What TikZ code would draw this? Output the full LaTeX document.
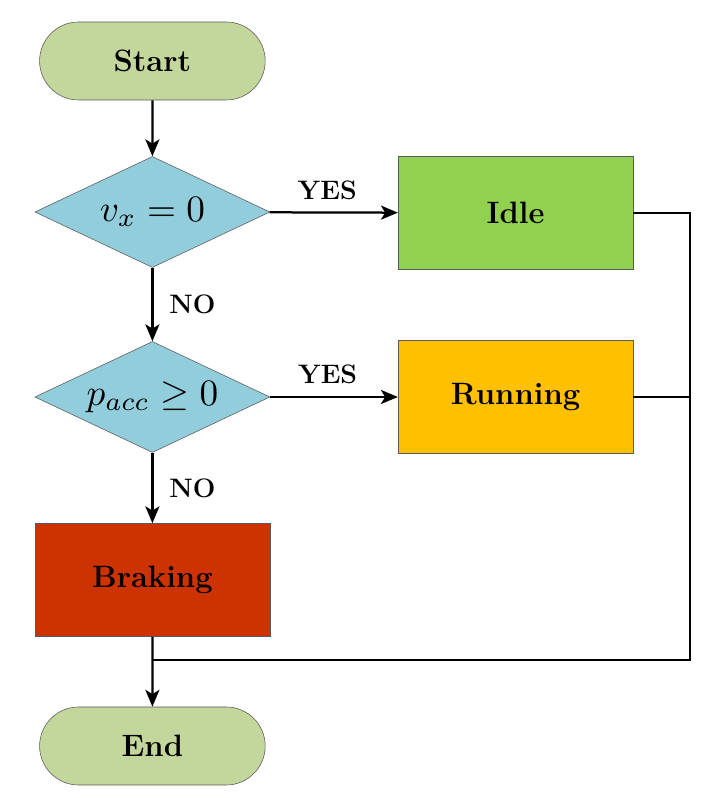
\documentclass[tikz,border=0pt]{standalone}
\usepackage{fontspec}
\usetikzlibrary{shapes.geometric, shapes.misc, arrows.meta}

\definecolor{termgreen}{HTML}{C3D69B}
\definecolor{condblue}{HTML}{92CDDC}
\definecolor{idlegreen}{HTML}{92D050}
\definecolor{runorange}{HTML}{FFC000}
\definecolor{brakered}{HTML}{CC3300}

\newcommand{\bigmath}[1]{\scalebox{2.65}{$#1$}}

\begin{document}
\begin{tikzpicture}[
  terminal/.style={rounded rectangle, draw=gray!70!black, thin, fill=termgreen,
    minimum width=5.875cm, minimum height=1.95cm, font=\fontsize{22}{26}\selectfont\bfseries},
  decision/.style={diamond, aspect=2.1, draw=gray!70!black, thin, fill=condblue, inner sep=0pt,
    minimum width=5.875cm, minimum height=2.775cm},
  state/.style={rectangle, draw=gray!70!black, thin,
    minimum width=5.875cm, minimum height=2.825cm, font=\fontsize{22}{26}\selectfont\bfseries},
  flow/.style={line width=1.6pt, -{Stealth[length=12pt, width=10pt, inset=3pt]}},
  link/.style={line width=1.6pt},
  answer/.style={font=\fontsize{19}{22}\selectfont\bfseries}
]
  % Fix the page size
  \useasboundingbox (0,0) rectangle (18.1,19.95);

  % Main column
  \node[terminal] (start) at (3.81,18.425) {Start};
  \node[decision] (still) at (3.81,14.65) {\bigmath{v_x = 0}};
  \node[decision] (accel) at (3.81,10.025) {\bigmath{p_{acc} \geq 0}};
  \node[state, fill=brakered] (braking) at (3.81,5.45) {Braking};
  \node[terminal] (end) at (3.81,1.3) {End};

  % Right column
  \node[state, fill=idlegreen] (idle) at (12.89,14.625) {Idle};
  \node[state, fill=runorange] (running) at (12.89,10.025) {Running};

  % Points of the return line
  \coordinate (rail) at (17.25,14.625);
  \coordinate (join) at (3.81,3.45);

  % Flow arrows
  \draw[flow] (start) -- (still);
  \draw[flow] (still) -- node[answer, above=5pt, pos=0.45] {YES} (idle);
  \draw[flow] (still) -- node[answer, right=8pt] {NO} (accel);
  \draw[flow] (accel) -- node[answer, above=5pt, pos=0.45] {YES} (running);
  \draw[flow] (accel) -- node[answer, right=8pt] {NO} (braking);
  \draw[flow] (braking) -- (end);

  % Return line from the right column
  \draw[link] (idle.east) -- (idle.east -| rail) -- (rail |- join) -- (join);
  \draw[link] (running.east) -- (running.east -| rail);

\end{tikzpicture}
\end{document}
